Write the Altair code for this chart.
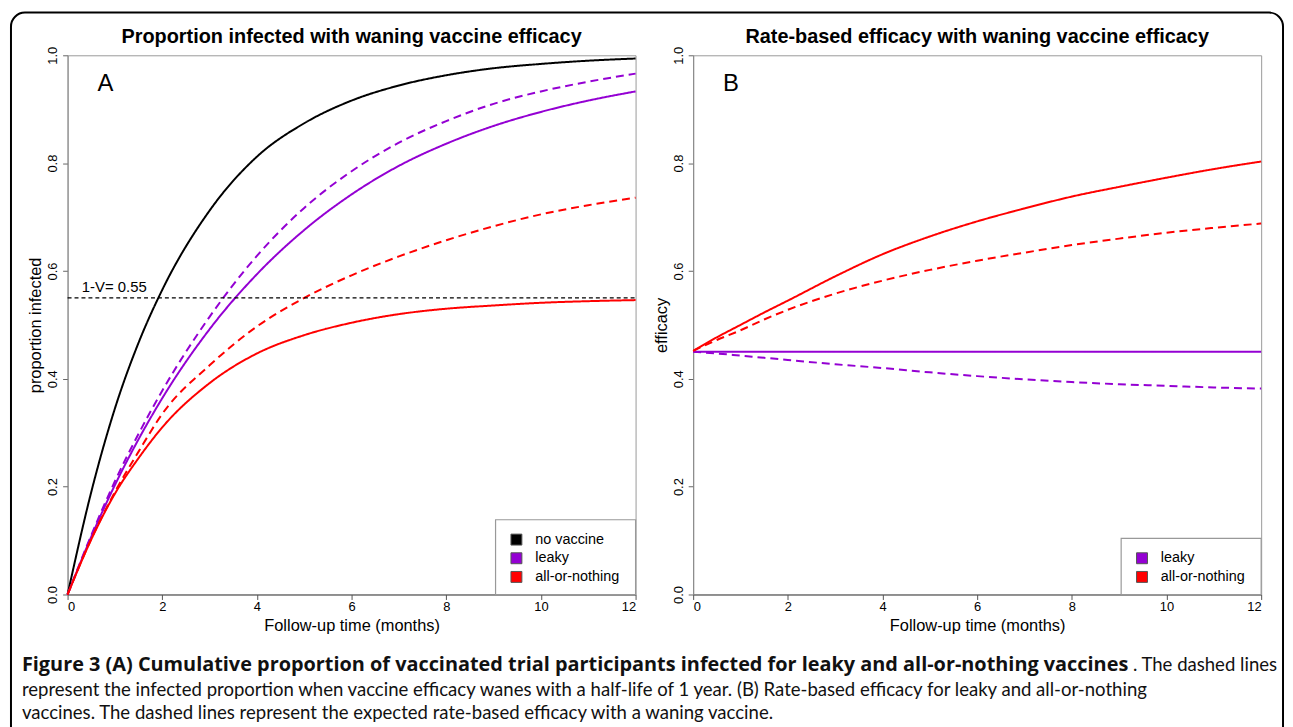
import altair as alt
import pandas as pd

# ---------------- data ----------------
months = [0, 0.5, 1, 1.5, 2, 3, 4, 5, 6, 7, 8, 9, 10, 11, 12]

# Panel A: cumulative proportion infected
a_no_vaccine = [0, 0.19, 0.345, 0.467, 0.565, 0.712, 0.812, 0.874, 0.916, 0.944, 0.963, 0.976, 0.984, 0.99, 0.994]
a_leaky = [0, 0.107, 0.203, 0.288, 0.364, 0.492, 0.594, 0.676, 0.742, 0.795, 0.836, 0.869, 0.895, 0.916, 0.933]
a_leaky_waning = [0, 0.11, 0.21, 0.298, 0.378, 0.515, 0.628, 0.717, 0.785, 0.838, 0.878, 0.91, 0.933, 0.951, 0.966]
a_aon = [0, 0.102, 0.187, 0.253, 0.31, 0.392, 0.447, 0.481, 0.504, 0.52, 0.53, 0.536, 0.541, 0.544, 0.546]
a_aon_waning = [0, 0.103, 0.19, 0.265, 0.335, 0.425, 0.497, 0.55, 0.592, 0.627, 0.657, 0.683, 0.705, 0.722, 0.736]
ref_level = [0.55]
ref_label = ["1-V= 0.55"]

# Panel B: rate-based efficacy
b_leaky = [0.45, 0.45, 0.45, 0.45, 0.45, 0.45, 0.45, 0.45, 0.45, 0.45, 0.45, 0.45, 0.45, 0.45, 0.45]
b_leaky_waning = [0.45, 0.447, 0.443, 0.439, 0.435, 0.427, 0.42, 0.412, 0.405, 0.399, 0.394, 0.39, 0.387, 0.384, 0.382]
b_aon = [0.452, 0.477, 0.5, 0.523, 0.545, 0.59, 0.631, 0.664, 0.692, 0.716, 0.738, 0.756, 0.773, 0.789, 0.803]
b_aon_waning = [0.452, 0.472, 0.49, 0.51, 0.528, 0.558, 0.582, 0.602, 0.619, 0.634, 0.648, 0.66, 0.671, 0.68, 0.688]

groups_a = ["no vaccine", "leaky", "all-or-nothing"]
groups_b = ["leaky", "all-or-nothing"]
x_ticks = [0, 2, 4, 6, 8, 10, 12]
y_ticks = [0, 0.2, 0.4, 0.6, 0.8, 1.0]

title_a = "Proportion infected with waning vaccine efficacy"
title_b = "Rate-based efficacy with waning vaccine efficacy"
caption_bold = "Figure 3 (A) Cumulative proportion of vaccinated trial participants infected for leaky and all-or-nothing vaccines"
caption_tail = ". The dashed lines"
caption_line2 = "represent the infected proportion when vaccine efficacy wanes with a half-life of 1 year. (B) Rate-based efficacy for leaky and all-or-nothing"
caption_line3 = "vaccines. The dashed lines represent the expected rate-based efficacy with a waning vaccine."

PURPLE = "#9400D3"
RED = "#FF0000"
FONT = "Liberation Sans"
CAPFONT = "Lato"
CAPBOLD = "Open Sans"


def long_df(series):
    rows = []
    for name, group, style, vals in series:
        for m, v in zip(months, vals):
            rows.append({"series": name, "group": group, "style": style, "month": m, "value": v})
    return pd.DataFrame(rows)


df_a = long_df([
    ("none", "no vaccine", "solid", a_no_vaccine),
    ("leaky_w", "leaky", "dashed", a_leaky_waning),
    ("leaky", "leaky", "solid", a_leaky),
    ("aon_w", "all-or-nothing", "dashed", a_aon_waning),
    ("aon", "all-or-nothing", "solid", a_aon),
])
df_b = long_df([
    ("leaky", "leaky", "solid", b_leaky),
    ("leaky_w", "leaky", "dashed", b_leaky_waning),
    ("aon_w", "all-or-nothing", "dashed", b_aon_waning),
    ("aon", "all-or-nothing", "solid", b_aon),
])

W, H = 572, 543
dash_scale = alt.Scale(domain=["solid", "dashed"], range=[[1, 0], [8, 5]])
one = pd.DataFrame({"k": [0]})


def x_enc():
    return alt.X("month:Q", scale=alt.Scale(domain=[0, 12], nice=False, zero=False),
                 axis=alt.Axis(values=x_ticks, format="d", title="Follow-up time (months)",
                               grid=False, tickSize=5, labelPadding=1, titlePadding=4,
                               domainColor="#555", tickColor="#555"))


def y_enc(title):
    return alt.Y("value:Q", scale=alt.Scale(domain=[0, 1], nice=False),
                 axis=alt.Axis(values=y_ticks, format=".1f", title=title, grid=False,
                               labelAngle=270, tickSize=5, labelPadding=3, titlePadding=3,
                               domainColor="#888", tickColor="#666"))


def text_at(txt, x, y, size, weight="normal", font=FONT, align="center", color="black"):
    d = pd.DataFrame({"t": [txt]})
    return alt.Chart(d).mark_text(font=font, fontSize=size, align=align, baseline="middle",
                                  fontWeight=weight, color=color).encode(
        x=alt.value(x), y=alt.value(y), text="t:N")


def legend_layers(groups, colors):
    n = len(groups)
    row_gap = 18.8
    bottom_row = H - 17.7
    top_row = bottom_row - (n - 1) * row_gap
    box = alt.Chart(one).mark_rect(fill="white", stroke="#999", strokeWidth=1.2).encode(
        x=alt.value(W - 141), x2=alt.value(W), y=alt.value(top_row - 20), y2=alt.value(H))
    out = [box]
    for i, (g, c) in enumerate(zip(groups, colors)):
        yy = top_row + i * row_gap
        out.append(alt.Chart(one).mark_square(size=121, fill=c, stroke="#555", strokeWidth=1,
                                              opacity=1).encode(
            x=alt.value(W - 120), y=alt.value(yy)))
        out.append(text_at(g, W - 101, yy, 14.5, align="left"))
    return out


def panel(df, groups, colors, ytitle, letter, title):
    lines = alt.Chart(df).mark_line(strokeWidth=2, interpolate="monotone").encode(
        x=x_enc(), y=y_enc(ytitle),
        stroke=alt.Stroke("group:N", scale=alt.Scale(domain=groups, range=colors), legend=None),
        strokeDash=alt.StrokeDash("style:N", scale=dash_scale, legend=None),
        detail="series:N",
    )
    letter_df = pd.DataFrame({"month": [0.8], "value": [0.947], "t": [letter]})
    let = alt.Chart(letter_df).mark_text(font=FONT, fontSize=24, color="black").encode(
        x="month:Q", y="value:Q", text="t:N")
    ttl = text_at(title, W / 2, -18, 20, weight="bold")
    return [lines, let, ttl] + legend_layers(groups, colors)


panel_view = alt.ViewBackground(stroke="#999", strokeWidth=1)

# ---- Panel A ----
layers_a = panel(df_a, groups_a, ["black", PURPLE, RED], "proportion infected", "A", title_a)
ref_df = pd.DataFrame({"month": [0], "month2": [12], "value": ref_level})
ref_rule = alt.Chart(ref_df).mark_rule(color="black", strokeWidth=1.2, strokeDash=[4, 3]).encode(
    x="month:Q", x2="month2:Q", y="value:Q")
ref_text_df = pd.DataFrame({"month": [0.3], "value": [0.556], "t": ref_label})
ref_text = alt.Chart(ref_text_df).mark_text(font=FONT, fontSize=15, align="left", baseline="bottom",
                                            color="black").encode(x="month:Q", y="value:Q", text="t:N")

# frame and caption (positioned relative to panel A's plot area)
border = alt.Chart(one).mark_rect(fill="transparent", stroke="black", strokeWidth=2,
                                  cornerRadiusTopLeft=14, cornerRadiusTopRight=14).encode(
    x=alt.value(-57), x2=alt.value(1224), y=alt.value(-43), y2=alt.value(700))
caps = [
    text_at(caption_bold, -46, 614, 20, weight="bold", font=CAPBOLD, align="left", color="#111"),
    text_at(caption_tail, 1218, 614, 18.7, font=CAPFONT, align="right", color="#111"),
    text_at(caption_line2, -46, 639, 18.7, font=CAPFONT, align="left", color="#111"),
    text_at(caption_line3, -46, 662, 18.7, font=CAPFONT, align="left", color="#111"),
]

chart_a = alt.layer(layers_a[0], ref_rule, ref_text, *layers_a[1:], border, *caps).properties(
    width=W, height=H, view=panel_view)

# ---- Panel B ----
layers_b = panel(df_b, groups_b, [PURPLE, RED], "efficacy", "B", title_b)
chart_b = alt.layer(*layers_b).properties(width=W, height=H, view=panel_view)

chart = alt.hconcat(chart_a, chart_b, spacing=58, bounds="flush").properties(
    padding={"left": 1, "top": 0, "right": 0, "bottom": 0}, background="white"
).configure_view(stroke="transparent").configure_axis(
    labelFont=FONT, labelFontSize=13, labelColor="black",
    titleFont=FONT, titleFontSize=16.5, titleFontWeight="normal", titleColor="black",
)

chart.save("out.html", embed_options={"renderer": "svg", "actions": False})
